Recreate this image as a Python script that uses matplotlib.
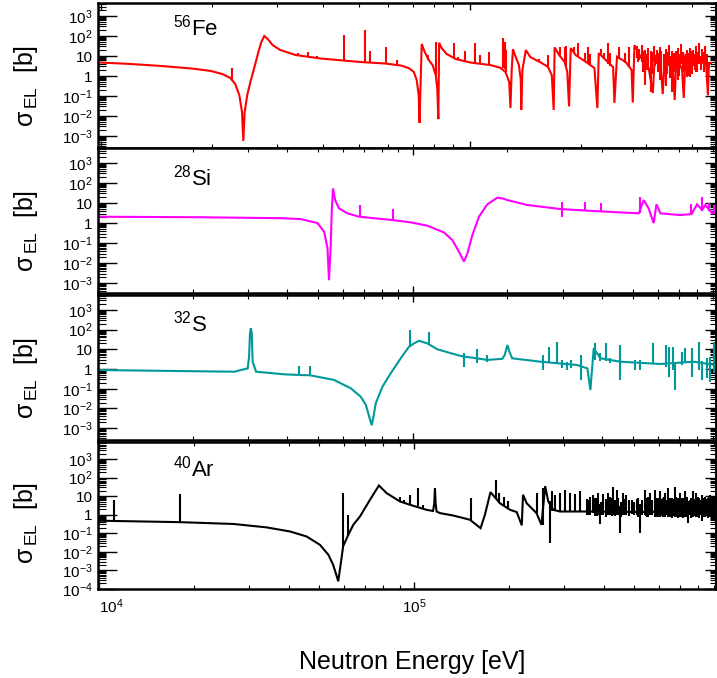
import numpy as np
import matplotlib
matplotlib.use("Agg")
import matplotlib.pyplot as plt
from matplotlib.ticker import LogLocator, FixedLocator, FixedFormatter, NullFormatter

plt.rcParams['font.family'] = ['Liberation Sans', 'DejaVu Sans']
plt.rcParams['mathtext.fontset'] = 'custom'
plt.rcParams['mathtext.rm'] = 'Liberation Sans'
plt.rcParams['mathtext.it'] = 'Liberation Sans:italic'
plt.rcParams['mathtext.bf'] = 'Liberation Sans:bold'
plt.rcParams['mathtext.sf'] = 'Liberation Sans'

# ---- 56Fe: smooth part (eV, barn) ----
fe_E = [1.0e4, 1.20e4, 1.445e4, 1.75e4, 1.98e4, 2.13e4, 2.24e4, 2.31e4, 2.37e4, 2.41e4,
        2.43e4, 2.45e4, 2.49e4, 2.54e4, 2.61e4, 2.67e4, 2.72e4, 2.77e4, 2.83e4, 2.92e4,
        3.06e4, 3.37e4, 3.94e4, 5.06e4, 5.91e4, 6.50e4, 6.83e4, 7.05e4, 7.18e4, 7.27e4,
        7.31e4, 7.36e4, 7.41e4, 7.55e4, 7.74e4, 7.93e4, 8.09e4, 8.17e4, 8.22e4, 8.26e4,
        8.39e4, 8.66e4, 9.16e4, 1.006e5, 1.14e5, 1.21e5, 1.25e5, 1.28e5, 1.29e5, 1.30e5,
        1.31e5, 1.33e5, 1.36e5, 1.376e5, 1.38e5, 1.39e5, 1.42e5, 1.46e5, 1.56e5, 1.63e5,
        1.67e5, 1.69e5, 1.70e5, 1.75e5, 1.81e5, 1.84e5, 1.86e5, 1.88e5, 1.94e5, 2.07e5,
        2.18e5, 2.22e5, 2.24e5, 2.34e5, 2.45e5, 2.47e5, 2.51e5, 2.65e5, 2.75e5, 2.77e5,
        2.80e5, 2.92e5, 3.06e5, 3.14e5, 3.18e5, 3.30e5, 3.34e5, 3.39e5, 3.56e5, 3.60e5,
        3.64e5, 3.77e5, 3.81e5, 3.85e5, 4.11e5, 4.38e5, 4.43e5, 4.46e5, 4.52e5]
fe_xs = [4.7, 4.0, 3.2, 2.4, 1.8, 1.26, 0.8, 0.4, 0.11, 0.016,
         5.6e-4, 0.016, 0.11, 0.5, 3.2, 16, 50, 100, 71, 35,
         20, 11.2, 7.5, 5.0, 4.2, 3.35, 2.5, 1.6, 0.63, 0.11,
         4.5e-3, 0.63, 40, 16, 6.3, 3.5, 1.1, 0.2, 7e-3, 46,
         25, 12.6, 7.1, 4.7, 3.5, 2.6, 1.6, 0.5, 0.025, 2.0,
         22, 10, 3.5, 0.63, 0.02, 2.0, 20, 8.9, 4.7, 2.9,
         1.1, 0.02, 27, 11, 5, 1.6, 0.03, 25, 11, 5,
         2.5, 0.025, 14, 6.3, 2.8, 0.045, 9.2, 5, 2.0, 0.047,
         35, 8, 2.5, 0.14, 11, 3.5, 0.125, 11, 2.5, 0.063,
         11, 2.0, 0.08, 11, 5, 4.5, 0.11, 4.5, 4.5]
# narrow resonances: energy, lower end, upper end
fe_spk_E = [2.26e4, 3.41e4, 3.65e4, 3.84e4, 4.57e4, 5.21e4, 5.35e4, 5.91e4, 6.36e4, 7.71e4,
            8.09e4, 9.05e4, 9.28e4, 9.69e4, 1.032e5, 1.064e5, 1.13e5, 1.235e5, 1.245e5, 1.255e5,
            1.54e5, 1.63e5, 1.76e5, 1.81e5, 1.83e5, 1.92e5, 1.97e5, 2.05e5, 2.09e5, 2.12e5,
            2.27e5, 2.31e5, 2.38e5, 2.41e5, 2.54e5, 2.64e5, 2.70e5, 2.84e5, 2.88e5, 2.93e5,
            2.99e5, 3.05e5, 3.10e5, 3.16e5, 3.22e5, 3.28e5, 3.41e5, 3.47e5, 3.54e5, 3.67e5,
            3.74e5, 3.89e5, 3.96e5, 4.04e5, 4.11e5, 4.19e5, 4.27e5, 4.35e5,
            2.86e5, 2.96e5, 3.02e5, 3.13e5, 3.19e5, 3.25e5, 3.31e5, 3.37e5, 3.44e5, 3.50e5,
            3.58e5, 3.63e5, 3.70e5, 3.78e5, 3.83e5, 3.92e5, 4.00e5, 4.08e5, 4.15e5, 4.23e5,
            4.31e5, 4.40e5]
fe_spk_lo = [0.75, 10, 9, 8, 5.5, 4.8, 4.7, 4.2, 3.6, 6.3,
             1.1, 7.3, 6.5, 5.5, 4.6, 4.4, 3.6, 2.6, 2.2, 1.6,
             4.8, 2.9, 11, 5, 3, 14, 9, 5, 4.5, 4,
             10, 7, 4, 3.3, 7, 4.5, 3, 8, 6, 5,
             0.35, 2.5, 0.16, 5, 4, 0.63, 0.3, 3, 0.16, 0.63,
             4, 0.9, 0.9, 3, 1.6, 4, 5, 4,
             5, 1.5, 2, 1.2, 3, 1.5, 1.0, 2, 1.2, 0.8,
             1.5, 2, 1.0, 1.5, 2, 1.0, 1.2, 2, 1.5, 2,
             1.5, 2]
fe_spk_hi = [2.5, 14, 16, 9.5, 112, 200, 18, 29, 6.3, 11,
             50, 46, 9.2, 18, 45, 11, 16, 76, 50, 20,
             7, 11, 27, 29, 32, 29, 43, 14, 29, 12.6,
             22, 14, 43, 14, 29, 14, 29, 30, 22, 35,
             20, 25, 18, 30, 20, 28, 22, 35, 18, 25,
             40, 20, 25, 20, 30, 45, 22, 30,
             14, 18, 12, 16, 10, 14, 18, 12, 15, 10,
             14, 18, 12, 16, 10, 14, 18, 12, 15, 10,
             16, 12]

# ---- 28Si ----
si_E = [1.0e4, 2.12e4, 3.81e4, 4.41e4, 4.98e4, 5.23e4, 5.36e4, 5.42e4, 5.49e4, 5.53e4,
        5.58e4, 5.67e4, 5.83e4, 6.20e4, 6.76e4, 8.68e4, 9.86e4, 1.113e5, 1.257e5, 1.337e5,
        1.403e5, 1.455e5, 1.492e5, 1.547e5, 1.624e5, 1.726e5, 1.79e5, 1.858e5, 1.93e5, 2.0e5,
        2.31e5, 2.95e5, 3.76e5, 5.23e5, 5.42e5, 5.62e5, 5.83e5, 5.95e5, 6.13e5, 7.09e5,
        7.69e5, 8.01e5, 8.31e5, 8.51e5, 8.94e5, 9.16e5]
si_xs = [2.07, 1.95, 1.75, 1.58, 1.0, 0.37, 0.056, 1.4e-3, 0.08, 3.7,
         54, 14, 5.4, 3.05, 2.07, 1.4, 1.08, 0.74, 0.34, 0.14,
         0.037, 0.012, 0.03, 0.25, 2.07, 8.6, 12.6, 18.5, 17, 14,
         8, 5, 4, 3.05, 14, 5.4, 1.0, 8.6, 3.05, 2.5,
         2.8, 8.6, 4.5, 8, 3.05, 4]
si_spk_E = [6.8e4, 8.68e4, 2.99e5, 3.54e5, 3.97e5, 5.29e5, 7.09e5, 7.69e5, 8.31e5, 8.73e5, 9.09e5]
si_spk_lo = [2.07, 1.4, 2.07, 4, 3.8, 3.05, 2.5, 2.8, 4, 4, 3]
si_spk_hi = [8, 5, 10.8, 10.8, 9.6, 20, 3.0, 8.6, 20, 9.6, 8]

# ---- 32S ----
s_E = [1.0e4, 2.71e4, 2.99e4, 3.02e4, 3.04e4, 3.06e4, 3.08e4, 3.10e4, 3.18e4, 3.90e4,
       4.34e4, 4.72e4, 5.62e4, 6.36e4, 6.84e4, 7.10e4, 7.25e4, 7.41e4, 7.52e4, 7.63e4,
       8.01e4, 8.51e4, 9.16e4, 9.73e4, 1.01e5, 1.047e5, 1.113e5, 1.198e5, 1.42e5, 1.726e5,
       1.926e5, 1.96e5, 2.0e5, 2.03e5, 2.07e5, 2.55e5, 3.33e5, 3.59e5, 3.67e5, 3.76e5,
       3.95e5, 4.57e5, 6.13e5, 7.82e5, 9.16e5]
s_xs = [0.89, 0.73, 1.08, 4.2, 65, 117, 65, 2.35, 0.73, 0.54,
        0.5, 0.48, 0.28, 0.105, 0.039, 0.015, 4.6e-3, 1.4e-3, 4.6e-3, 0.018,
        0.126, 0.6, 3.5, 13.5, 20, 27, 20, 10, 4.6, 2.9,
        3.3, 5.1, 16.5, 7.6, 3.5, 2.35, 1.6, 1.08, 0.086, 11.2,
        3.5, 2.35, 1.8, 2.35, 1.6]
s_spk_E = [4.34e4, 4.72e4, 9.80e4, 1.126e5, 1.455e5, 1.605e5, 1.726e5, 2.60e5, 2.71e5, 2.88e5,
           2.99e5, 3.10e5, 3.19e5, 3.43e5, 3.79e5, 3.95e5, 4.12e5, 4.23e5, 4.57e5, 5.10e5,
           5.29e5, 5.81e5, 6.36e5, 6.51e5, 6.72e5, 6.84e5, 7.18e5, 7.36e5, 7.73e5, 8.11e5,
           8.31e5, 8.62e5, 8.83e5, 9.09e5]
s_spk_lo = [0.5, 0.48, 13.5, 18, 1.3, 1.95, 2.35, 0.89, 2.2, 2,
            1.08, 0.89, 1.08, 0.28, 3, 2.5, 2.5, 1.95, 0.28, 0.89,
            0.89, 1.8, 1.3, 0.41, 0.89, 0.086, 1.6, 1.95, 0.41, 0.89,
            0.28, 0.34, 0.23, 0.6]
s_spk_hi = [1.4, 1.5, 96, 79, 6.3, 10, 5.1, 5.1, 13.5, 24,
            2.9, 2.2, 2.9, 5.1, 20, 6.3, 20, 3.5, 16.5, 2.9,
            2.9, 20, 16.5, 13.5, 13.5, 2.0, 7.6, 11.2, 11.2, 24,
            2.5, 3.5, 4.2, 24]

# ---- 40Ar ----
ar_E = [1.0e4, 1.81e4, 2.67e4, 3.40e4, 4.04e4, 4.56e4, 5.03e4, 5.35e4, 5.54e4, 5.65e4,
        5.75e4, 5.85e4, 5.96e4, 6.19e4, 6.42e4, 6.74e4, 7.25e4, 7.74e4, 8.19e4, 9.03e4,
        9.95e4, 1.097e5, 1.15e5, 1.16e5, 1.166e5, 1.172e5, 1.18e5, 1.21e5, 1.33e5, 1.506e5,
        1.628e5, 1.68e5, 1.75e5, 1.875e5, 2.02e5, 2.12e5, 2.20e5, 2.22e5, 2.28e5, 2.45e5,
        2.54e5, 2.61e5, 2.67e5, 2.77e5, 2.91e5, 3.71e5, 5.35e5, 7.0e5, 9.03e5]
ar_xs = [0.48, 0.40, 0.32, 0.21, 0.126, 0.068, 0.024, 7e-3, 2e-3, 7e-4,
         2.6e-4, 2e-3, 0.02, 0.084, 0.29, 0.81, 6.4, 38, 14.7, 5.2,
         3.05, 1.85, 1.6, 4, 27, 4, 1.5, 1.23, 0.92, 0.54,
         0.19, 1.0, 16.6, 4.2, 1.85, 1.4, 0.27, 12, 4.2, 1.23,
         0.29, 35, 5.2, 1.85, 1.5, 1.5, 1.4, 1.6, 1.9]
ar_spk_E = [1.12e4, 1.81e4, 5.96e4, 6.16e4, 9.03e4, 9.30e4, 9.71e4, 1.027e5, 1.065e5, 1.513e5,
            1.82e5, 1.866e5, 1.93e5, 1.99e5, 2.45e5, 2.56e5, 2.70e5, 2.74e5, 2.80e5, 2.91e5,
            3.02e5, 3.13e5, 3.24e5, 3.37e5, 3.54e5, 3.62e5, 3.71e5, 3.80e5, 3.85e5, 3.89e5,
            3.99e5, 4.14e5, 4.24e5, 4.29e5, 4.40e5, 4.51e5, 4.62e5, 4.73e5, 4.91e5, 5.09e5,
            5.22e5, 5.41e5, 5.50e5, 5.61e5, 5.82e5, 5.94e5, 6.04e5, 6.16e5, 6.26e5, 6.41e5,
            6.58e5, 6.74e5, 6.87e5, 6.98e5, 7.13e5, 7.25e5, 7.43e5, 7.57e5, 7.70e5, 7.89e5,
            8.05e5, 8.19e5, 8.39e5, 8.56e5, 8.71e5, 8.81e5, 8.92e5,
            3.58e5, 3.76e5, 3.94e5, 4.06e5, 4.19e5, 4.34e5, 4.46e5, 4.56e5, 4.67e5, 4.80e5,
            5.00e5, 5.15e5, 5.30e5, 5.45e5, 5.55e5, 5.72e5, 5.88e5, 6.10e5, 6.20e5, 6.34e5,
            6.50e5, 6.66e5, 6.80e5, 6.92e5, 7.06e5, 7.19e5, 7.34e5, 7.50e5, 7.63e5, 7.80e5,
            7.97e5, 8.12e5, 8.29e5, 8.47e5, 8.63e5, 8.86e5, 8.98e5]
ar_spk_lo = [0.46, 0.40, 0.02, 0.07, 5.2, 4.5, 3.6, 2.8, 2.2, 0.54,
             7, 4.5, 3.3, 2.3, 1.23, 0.29, 0.03, 1.6, 1.6, 1.5,
             1.5, 1.5, 1.5, 1.5, 1.0, 1.0, 1.23, 0.9, 1.0, 0.32,
             1.0, 1.0, 0.9, 1.0, 1.0, 0.11, 1.0, 1.0, 1.1, 1.0,
             0.11, 1.0, 0.8, 1.0, 0.8, 0.8, 0.8, 0.8, 0.8, 0.8,
             0.7, 0.8, 0.7, 0.8, 0.7, 0.8, 0.34, 0.7, 0.8, 0.8,
             0.7, 0.44, 0.8, 0.7, 0.8, 0.7, 0.8,
             1.0, 0.9, 1.0, 0.8, 1.0, 0.9, 1.0, 0.8, 1.0, 0.9,
             1.0, 0.8, 1.0, 0.9, 0.8, 1.0, 0.8, 0.9, 0.8, 1.0,
             0.8, 0.9, 0.8, 1.0, 0.8, 0.9, 0.8, 1.0, 0.8, 0.9,
             0.8, 1.0, 0.8, 0.9, 0.8, 1.0, 0.8]
ar_spk_hi = [6.4, 13, 14.7, 1.0, 9.6, 6, 12, 29, 3.2, 7.9,
             76, 14.7, 9.6, 5.7, 15.6, 27, 5.2, 18, 12, 14.7,
             22, 15.6, 13, 18, 7, 9.6, 12, 8, 14.7, 4,
             13, 14.7, 8, 33, 22, 3, 15.6, 12, 6, 7,
             4, 22, 8, 14.7, 22, 8, 18, 8, 15.6, 27,
             8, 33, 8, 14.7, 8, 20, 5.2, 8, 18, 14.7,
             8, 12, 9.6, 8, 12, 7, 9.6,
             6, 8, 5, 7, 9, 6, 8, 5, 7, 6,
             5, 8, 6, 7, 9, 6, 8, 7, 9, 6,
             8, 7, 9, 6, 8, 7, 9, 6, 8, 7,
             9, 6, 8, 7, 9, 6, 8]

panels = [
    (r'$^{56}$Fe', 'red', fe_E, fe_xs, fe_spk_E, fe_spk_lo, fe_spk_hi,
     (9.8e3, 4.66e5), (2.5e-4, 4.5e3), [-3, -2, -1, 0, 1, 2, 3],
     [0.1367, 0.7817, 0.8619, 0.2139], 0.92, 0.43),
    (r'$^{28}$Si', '#ff00ff', si_E, si_xs, si_spk_E, si_spk_lo, si_spk_hi,
     (1.0e4, 9.2e5), (3.2e-4, 5.6e3), [-3, -2, -1, 0, 1, 2, 3],
     [0.1367, 0.5678, 0.8619, 0.2139], 0.885, 0.43),
    (r'$^{32}$S', '#009999', s_E, s_xs, s_spk_E, s_spk_lo, s_spk_hi,
     (1.0e4, 9.2e5), (2.5e-4, 5.7e3), [-3, -2, -1, 0, 1, 2, 3],
     [0.1367, 0.3510, 0.8619, 0.2139], 0.89, 0.43),
    (r'$^{40}$Ar', 'black', ar_E, ar_xs, ar_spk_E, ar_spk_lo, ar_spk_hi,
     (9.93e3, 9.1e5), (1.0e-4, 8.4e3), [-4, -3, -2, -1, 0, 1, 2, 3],
     [0.1367, 0.1313, 0.8619, 0.2168], 0.91, 0.45),
]


def dec_label(k):
    if k == 0:
        return '1'
    if k == 1:
        return '10'
    return r'$10^{%d}$' % k


fig = plt.figure(figsize=(7.17, 6.78), dpi=100)

for i, (name, col, E, xs, sE, slo, shi, xl, yl, exps, rect, ty, ly) in enumerate(panels):
    ax = fig.add_axes(rect)
    ax.set_xscale('log')
    ax.set_yscale('log')
    ax.plot(E, xs, color=col, lw=1.5, solid_joinstyle='miter')
    ax.vlines(sE, slo, shi, color=col, lw=1.5)
    ax.set_xlim(*xl)
    ax.set_ylim(*yl)

    if i < 3:
        ax.xaxis.set_major_locator(LogLocator(base=10, numticks=20))
    else:
        ax.xaxis.set_major_locator(FixedLocator([1e4, 1e5]))
        ax.xaxis.set_major_formatter(FixedFormatter([r'$10^{4}$', r'$10^{5}$']))
    ax.xaxis.set_minor_locator(LogLocator(base=10, subs=np.arange(2, 10), numticks=60))
    ax.xaxis.set_minor_formatter(NullFormatter())
    ax.tick_params(axis='x', which='both', direction='in', top=True, bottom=True)
    ax.tick_params(axis='x', which='major', length=5, width=1.0, labelsize=11, pad=6)
    ax.tick_params(axis='x', which='minor', length=3, width=0.8)
    if i < 3:
        ax.tick_params(axis='x', labelbottom=False)

    ticks = [10.0 ** k for k in exps]
    ax.yaxis.set_major_locator(FixedLocator(ticks))
    ax.yaxis.set_major_formatter(FixedFormatter([dec_label(k) for k in exps]))
    ax.yaxis.set_minor_locator(LogLocator(base=10, subs=np.arange(2, 10), numticks=60))
    ax.yaxis.set_minor_formatter(NullFormatter())
    ax.tick_params(axis='y', which='major', direction='in', length=14, width=1.0,
                   right=False, labelsize=11, pad=4)
    ax.tick_params(axis='y', which='minor', direction='in', length=6, width=0.8, right=False)

    sec = ax.secondary_yaxis('right')
    sec.yaxis.set_major_locator(FixedLocator(ticks))
    sec.yaxis.set_minor_locator(LogLocator(base=10, subs=np.arange(2, 10), numticks=60))
    sec.yaxis.set_major_formatter(NullFormatter())
    sec.yaxis.set_minor_formatter(NullFormatter())
    sec.tick_params(axis='y', which='major', direction='in', length=8, width=1.0)
    sec.tick_params(axis='y', which='minor', direction='in', length=4, width=0.8)
    sec.spines['right'].set_linewidth(1.8)

    for sp in ax.spines.values():
        sp.set_linewidth(1.8)

    ax.set_ylabel('σ$_{\\,\\mathregular{EL}}$  [b]', fontsize=18)
    ax.yaxis.set_label_coords(-0.094, ly)
    ax.text(0.122, ty, name, transform=ax.transAxes, fontsize=16, ha='left', va='top')

    if i == 3:
        first = ax.get_xticklabels()[0]
        first.set_horizontalalignment('left')

fig.text(0.5753, 1 - 662 / 678, 'Neutron Energy [eV]', ha='center', va='center', fontsize=18)

fig.savefig('out.png', dpi=100)
